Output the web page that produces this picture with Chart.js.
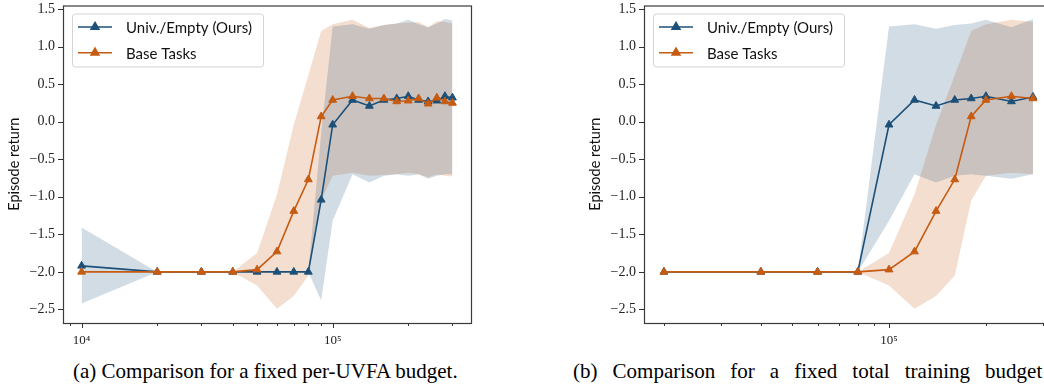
<!DOCTYPE html>
<html>
<head>
<meta charset="utf-8">
<script src="https://cdn.jsdelivr.net/npm/chart.js@4.4.0/dist/chart.umd.min.js"></script>
<style>
  html, body { margin: 0; padding: 0; background: #fff; overflow: hidden; width: 1044px; height: 391px; }
  canvas { position: absolute; top: 0; }
  #chartA { left: 0; }
  #chartB { left: 575px; }
  .caption { position: absolute; top: 359px; font-family: "Liberation Serif", serif; font-size: 21px; white-space: nowrap; color: #000; }
  #capA { left: 73px; }
  /* first line of a justified two-line caption */
  #capB { left: 573px; word-spacing: 9.8px; }
</style>
</head>
<body>
<canvas id="chartA" width="480" height="352"></canvas>
<canvas id="chartB" width="490" height="352"></canvas>
<div class="caption" id="capA">(a) Comparison for a fixed per-UVFA budget.</div>
<div class="caption" id="capB">(b) Comparison for a fixed total training budget</div>
<script>
// (a) per-UVFA budget
const stepsA = [1e4, 2e4, 3e4, 4e4, 5e4, 6e4, 7e4, 8e4, 9e4, 1e5, 1.2e5, 1.4e5, 1.6e5, 1.8e5, 2e5, 2.2e5, 2.4e5, 2.6e5, 2.8e5, 3e5];
const univMeanA = [-1.92, -2, -2, -2, -2, -2, -2, -2, -1.04, -0.04, 0.29, 0.21, 0.29, 0.31, 0.34, 0.29, 0.27, 0.28, 0.34, 0.32];
const univHiA = [-1.41, -2, -2, -2, -2, -2, -2, -2, -0.15, 1.27, 1.30, 1.24, 1.29, 1.31, 1.36, 1.30, 1.26, 1.31, 1.37, 1.35];
const univLoA = [-2.42, -2, -2, -2, -2, -2, -2, -2, -2.38, -1.32, -0.70, -0.81, -0.72, -0.70, -0.72, -0.70, -0.76, -0.72, -0.70, -0.70];
const baseMeanA = [-2, -2, -2, -2, -1.97, -1.73, -1.19, -0.77, 0.07, 0.29, 0.34, 0.31, 0.31, 0.27, 0.28, 0.31, 0.24, 0.32, 0.27, 0.25];
const baseHiA = [-2, -2, -2, -2, -1.75, -0.97, -0.04, 0.62, 1.21, 1.30, 1.36, 1.25, 1.29, 1.31, 1.32, 1.33, 1.26, 1.34, 1.33, 1.31];
const baseLoA = [-2, -2, -2, -2, -2.18, -2.49, -2.32, -2.05, -1.05, -0.72, -0.68, -0.72, -0.71, -0.70, -0.68, -0.70, -0.74, -0.70, -0.72, -0.73];

// (b) total training budget
const stepsB = [2e4, 4e4, 6e4, 8e4, 1e5, 1.2e5, 1.4e5, 1.6e5, 1.8e5, 2e5, 2.4e5, 2.8e5];
const univMeanB = [-2, -2, -2, -2, -0.04, 0.29, 0.21, 0.29, 0.31, 0.34, 0.27, 0.33];
const univHiB = [-2, -2, -2, -2, 1.27, 1.30, 1.24, 1.29, 1.31, 1.36, 1.26, 1.37];
const univLoB = [-2, -2, -2, -2, -1.32, -0.70, -0.81, -0.72, -0.70, -0.72, -0.76, -0.70];
const baseMeanB = [-2, -2, -2, -2, -1.97, -1.73, -1.19, -0.77, 0.07, 0.29, 0.34, 0.31];
const baseHiB = [-2, -2, -2, -2, -1.75, -0.97, -0.04, 0.62, 1.21, 1.30, 1.36, 1.33];
const baseLoB = [-2, -2, -2, -2, -2.18, -2.49, -2.32, -2.05, -1.05, -0.72, -0.68, -0.70];

const yTicks = [-2.5, -2, -1.5, -1, -0.5, 0, 0.5, 1, 1.5];
const xTicks = [9e3, 1e4, 2e4, 3e4, 4e4, 5e4, 6e4, 7e4, 8e4, 9e4, 1e5, 2e5, 3e5];

const BLUE = '#1d5078';
const ORANGE = '#c65b12';
const BLUE_BAND = 'rgba(29,80,120,0.2)';
const ORANGE_BAND = 'rgba(198,91,18,0.2)';

const SERIF = "'Liberation Serif', serif";
const SANS = "Lato, 'DejaVu Sans', sans-serif";

const pts = (xs, ys) => xs.map((x, i) => ({x: x, y: ys[i]}));

const band = (xs, hi, lo, color) => [
    {data: pts(xs, hi), borderWidth: 0, pointRadius: 0, fill: '+1', backgroundColor: color, order: 5},
    {data: pts(xs, lo), borderWidth: 0, pointRadius: 0, fill: false, order: 5}
];

const meanLine = (label, xs, ys, color, order) => ({
    label: label,
    data: pts(xs, ys),
    borderColor: color,
    backgroundColor: color,
    borderWidth: 1.6,
    pointStyle: 'triangle',
    pointRadius: 4.5,
    pointBorderWidth: 1,
    pointBackgroundColor: color,
    pointBorderColor: color,
    fill: false,
    tension: 0,
    order: order
});

// axis frame and tick marks, matplotlib style
const frameTicks = {
    id: 'frameTicks',
    afterDraw(chart) {
        const {ctx, chartArea, scales} = chart;
        const b = chartArea.bottom, l = chartArea.left;
        ctx.save();
        ctx.strokeStyle = '#333';
        ctx.lineWidth = 1;
        ctx.beginPath();
        scales.x.ticks.forEach(t => {
            const px = Math.round(scales.x.getPixelForValue(t.value)) + 0.5;
            const len = t.major ? 5 : 3;
            ctx.moveTo(px, b);
            ctx.lineTo(px, b + len);
        });
        scales.y.ticks.forEach(t => {
            const py = Math.round(scales.y.getPixelForValue(t.value)) + 0.5;
            ctx.moveTo(l, py);
            ctx.lineTo(l - 5, py);
        });
        ctx.stroke();
        ctx.lineWidth = 1.2;
        ctx.strokeStyle = '#3a3a3a';
        ctx.strokeRect(chartArea.left + 0.5, chartArea.top + 0.5, chartArea.width, chartArea.height);
        ctx.restore();
    }
};

const legendBox = {
    id: 'legendBox',
    afterDraw(chart) {
        const {ctx, chartArea} = chart;
        const x = chartArea.left + 9, y = chartArea.top + 8;
        ctx.save();
        ctx.beginPath();
        ctx.roundRect(x + 0.5, y + 0.5, 191, 53, 3);
        ctx.fillStyle = 'rgba(255,255,255,0.8)';
        ctx.fill();
        ctx.strokeStyle = '#d4d4d4';
        ctx.lineWidth = 1;
        ctx.stroke();
        const entries = chart.data.datasets.filter(d => d.label);
        entries.forEach((d, i) => {
            const cy = y + 13.5 + i * 25.7;
            ctx.strokeStyle = d.borderColor;
            ctx.lineWidth = d.borderWidth;
            ctx.beginPath();
            ctx.moveTo(x + 6, cy);
            ctx.lineTo(x + 40, cy);
            ctx.stroke();
            ctx.fillStyle = d.borderColor;
            Chart.helpers.drawPoint(ctx, {pointStyle: 'triangle', radius: 4.5, borderWidth: 1}, x + 23, cy);
            ctx.fillStyle = '#111';
            ctx.font = '15px ' + SANS;
            ctx.textBaseline = 'middle';
            ctx.fillText(d.label, x + 54, cy + 1);
        });
        ctx.restore();
    }
};

function makeChart(id, xs, univ, base, xmin, xmax, yWidth, titlePad, rightPad) {
    const ctx = document.getElementById(id).getContext('2d');
    return new Chart(ctx, {
        type: 'line',
        data: {
            datasets: [
                ...band(xs, univ[1], univ[2], BLUE_BAND),
                ...band(xs, base[1], base[2], ORANGE_BAND),
                meanLine('Univ./Empty (Ours)', xs, univ[0], BLUE, 2),
                meanLine('Base Tasks', xs, base[0], ORANGE, 1)
            ]
        },
        options: {
            responsive: false,
            animation: false,
            layout: {padding: {left: 0, top: 3, right: rightPad, bottom: 0}},
            plugins: {legend: {display: false}, tooltip: {enabled: false}},
            scales: {
                x: {
                    type: 'logarithmic',
                    min: xmin,
                    max: xmax,
                    grid: {display: false, drawTicks: false},
                    border: {display: false},
                    afterBuildTicks: s => {
                        s.ticks = xTicks.filter(v => v >= xmin && v <= xmax)
                            .map(v => ({value: v, major: v === 1e4 || v === 1e5}));
                    },
                    afterFit: s => {
                        s.height = 29;
                        s.paddingLeft = 0;
                        s.paddingRight = 0;
                    },
                    ticks: {
                        autoSkip: false,
                        maxRotation: 0,
                        padding: 10,
                        color: '#222',
                        font: {family: SERIF, size: 13},
                        callback: v => v === 1e4 ? '10\u2074' : (v === 1e5 ? '10\u2075' : '')
                    }
                },
                y: {
                    type: 'linear',
                    min: -2.681,
                    max: 1.5485,
                    grid: {display: false, drawTicks: false},
                    border: {display: false},
                    afterBuildTicks: s => { s.ticks = yTicks.map(v => ({value: v})); },
                    afterFit: s => {
                        s.width = yWidth;
                        s.paddingTop = 0;
                        s.paddingBottom = 0;
                    },
                    title: {
                        display: true,
                        text: 'Episode return',
                        color: '#111',
                        font: {family: SANS, size: 14.5},
                        padding: {top: titlePad, bottom: 0}
                    },
                    ticks: {
                        padding: 8,
                        color: '#222',
                        font: {family: SERIF, size: 14},
                        callback: v => v.toFixed(1).replace('-', '\u2212')
                    }
                }
            }
        },
        plugins: [frameTicks, legendBox]
    });
}

makeChart('chartA', stepsA,
    [univMeanA, univHiA, univLoA], [baseMeanA, baseHiA, baseLoA],
    8433, 355600, 63, 6, 9);
makeChart('chartB', stepsB,
    [univMeanB, univHiB, univLoB], [baseMeanB, baseHiB, baseLoB],
    17340, 320800, 69, 12, 13);
</script>
</body>
</html>
